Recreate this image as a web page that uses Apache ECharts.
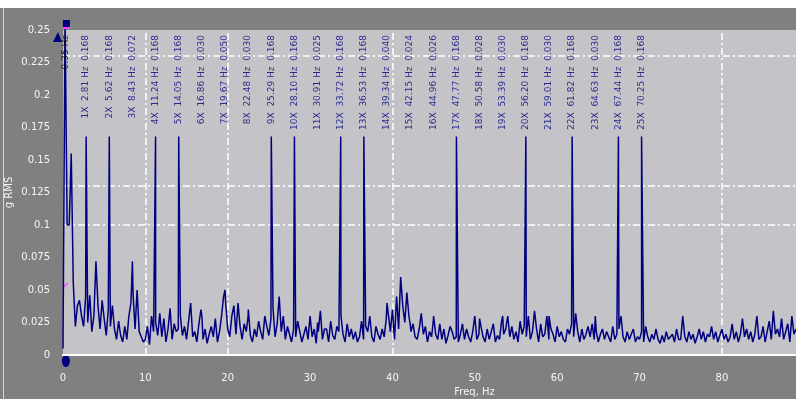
<!DOCTYPE html>
<html>
<head>
<meta charset="utf-8">
<script src="https://cdn.jsdelivr.net/npm/echarts@6/dist/echarts.min.js"></script>
<style>
html,body{margin:0;padding:0;background:#808080;}
#c{width:796px;height:399px;}
</style>
</head>
<body>
<div id="c"></div>
<script>
// Spectrum amplitude, in thousandths of the axis unit, one value every 0.25 Hz from 0 Hz
const FREQ_STEP = 0.25;
const noiseMilli = [
  5,260,100,100, 155,55,22,38, 42,30,22,45, 25,46,18,30, 72,38,20,42,
  28,15,35,22, 38,20,12,26, 15,10,22,12, 30,40,48,20, 50,18,14,10,
  12,22,8,30, 18,25,15,32, 14,28,10,20, 36,12,24,18, 20,30,15,22,
  12,26,40,14, 18,10,24,35, 12,20,9,16, 22,14,28,10, 18,30,45,40,
  20,14,30,38, 16,40,22,12, 24,18,35,15, 10,20,14,26, 18,12,30,22,
  15,28,36,14, 24,45,18,30, 12,22,16,10, 20,14,26,18, 10,16,22,12,
  30,14,20,9, 18,34,12,20, 20,10,26,15, 12,22,18,30, 16,10,24,14,
  20,12,18,10, 14,26,12,22, 18,30,14,10, 22,16,12,20, 14,28,40,18,
  35,12,45,20, 60,38,25,48, 30,18,24,14, 12,20,32,16, 22,10,18,14,
  30,16,12,24, 12,20,9,15, 22,18,12,14, 10,16,24,12, 20,14,10,18,
  30,12,16,22, 14,10,20,12, 18,24,10,15, 12,26,16,20, 30,14,22,12,
  18,10,26,16, 22,14,30,12, 18,34,20,10, 24,14,16,30, 12,20,16,10,
  22,14,18,12, 10,20,16,24, 14,32,18,10, 20,12,16,22, 14,24,12,18,
  10,16,20,12, 18,14,10,22, 12,16,20,30, 14,10,18,12, 16,20,10,14,
  12,18,10,22, 14,10,16,12, 20,12,9,15, 10,18,12,14, 16,10,20,12,
  12,30,14,10, 18,12,16,9, 14,20,12,18, 10,16,14,22, 12,18,10,15,
  20,12,16,10, 14,24,12,18, 10,16,28,14, 20,12,18,10, 16,30,12,14,
  22,10,18,26, 12,34,16,20, 14,28,12,18, 24,10,30,16, 20
];
// Harmonic order, frequency (Hz) and amplitude (thousandths)
const harmonicOrder = [1,2,3,4,5,6,7,8,9,10,11,12,13,14,15,16,17,18,19,20,21,22,23,24,25];
const harmonicFreq  = [2.81,5.62,8.43,11.24,14.05,16.86,19.67,22.48,25.29,28.10,30.91,33.72,36.53,39.34,42.15,44.96,47.77,50.58,53.39,56.20,59.01,61.82,64.63,67.44,70.25];
const harmonicMilli = [168,168,72,168,168,30,50,30,168,168,25,168,168,40,24,26,168,28,30,168,30,168,30,168,168];
// Cursor
const cursorFreq = 0.35;
const cursorLabel = '0.35 Hz';
// Axes
const xTickInterval = 10, xMax = 89;
const yTickInterval = 0.025, yMax = 0.25;
const gridX = [10, 20, 40, 80];
const gridY = [0.1, 0.125, 0.225];
const xName = 'Freq, Hz';
const yName = 'g RMS';

(function () {
const pts = noiseMilli.map((v, i) => [i * FREQ_STEP, v / 1000]);
harmonicFreq.forEach((f, i) => pts.push([f, harmonicMilli[i] / 1000]));
pts.sort((a, b) => a[0] - b[0]);

const labelPts = harmonicFreq.map((f, i) => ({
  value: [f, yMax],
  label: { formatter: harmonicOrder[i] + 'X  ' + f.toFixed(2) + ' Hz  ' + (harmonicMilli[i] / 1000).toFixed(3) }
}));

const chart = echarts.init(document.getElementById('c'), null, {renderer: 'canvas'});
const white = '#f4f4f4';
const gridStyle = {color: '#ffffff', width: 1.5, type: [7, 3, 2, 3]};

chart.setOption({
  animation: false,
  backgroundColor: '#808080',
  textStyle: {fontFamily: 'DejaVu Sans'},
  grid: {left: 63, right: 0, top: 30, bottom: 44, show: true, backgroundColor: '#c4c4c8', borderWidth: 0,
    containLabel: false, outerBoundsMode: 'none'},
  xAxis: {
    type: 'value', min: 0, max: xMax, interval: xTickInterval,
    axisLine: {show: true, onZero: false, lineStyle: {color: '#ffffff', width: 2}},
    axisTick: {show: false}, splitLine: {show: false},
    axisLabel: {color: white, fontSize: 10, margin: 18, showMaxLabel: false},
    name: xName, nameLocation: 'middle', nameGap: 32, nameMoveOverlap: false,
    nameTextStyle: {color: white, fontSize: 10, padding: [0, 0, 0, 90]}
  },
  yAxis: {
    type: 'value', min: 0, max: yMax, interval: yTickInterval,
    axisLine: {show: false}, axisTick: {show: false}, splitLine: {show: false},
    axisLabel: {color: white, fontSize: 10, margin: 13,
      formatter: v => v === 0 ? '0' : String(Math.round(v * 1000) / 1000)},
    name: yName, nameLocation: 'middle', nameGap: 49, nameMoveOverlap: false,
    nameTextStyle: {color: white, fontSize: 10}
  },
  series: [
    {
      type: 'line', data: [], z: 1, silent: true,
      markLine: {
        silent: true, symbol: 'none', z: 1, label: {show: false}, lineStyle: gridStyle,
        data: gridX.map(v => ({xAxis: v})).concat(gridY.map(v => ({yAxis: v})))
      }
    },
    {
      type: 'line', data: pts, z: 3, showSymbol: false, symbol: 'none', clip: true,
      lineStyle: {color: '#000080', width: 1.5}
    },
    {
      type: 'scatter', data: labelPts, symbolSize: 0, z: 4, silent: true,
      label: {show: true, rotate: 90, position: [0, 5], align: 'right', verticalAlign: 'middle',
        color: '#000080', fontSize: 9}
    },
    {
      type: 'scatter', data: [[cursorFreq, yMax]], symbolSize: 0, z: 4, silent: true,
      label: {show: true, rotate: 90, position: [0, 5], align: 'right', verticalAlign: 'middle',
        color: '#000000', fontSize: 9, formatter: cursorLabel}
    }
  ]
});

const cx = chart.convertToPixel({gridIndex: 0}, [cursorFreq, 0])[0];
const plotTop = chart.convertToPixel({gridIndex: 0}, [0, yMax])[1];
const plotBottom = chart.convertToPixel({gridIndex: 0}, [0, 0])[1];
const gl = chart.convertToPixel({gridIndex: 0}, [0, 0])[0];
const pinkY = chart.convertToPixel({gridIndex: 0}, [0, 0.054])[1];
chart.setOption({
  graphic: [
    {type: 'rect', shape: {x: 0, y: 0, width: 796, height: 8}, style: {fill: '#ffffff'}},
    {type: 'line', shape: {x1: 3.5, y1: 8, x2: 3.5, y2: 399}, style: {stroke: '#d8d8d8', lineWidth: 1}},
    {type: 'rect', shape: {x: cx - 3, y: plotTop - 10, width: 7, height: 7}, style: {fill: '#000080'}},
    {type: 'rect', shape: {x: cx - 3, y: plotTop - 3, width: 7, height: 2}, style: {fill: '#ff40ff'}},
    {type: 'polygon', shape: {points: [[gl - 10, plotTop + 12], [gl - 1, plotTop + 12], [gl - 5, plotTop + 2]]}, style: {fill: '#000080'}},
    {type: 'ellipse', shape: {cx: cx, cy: plotBottom + 6, rx: 4, ry: 6}, style: {fill: '#000080'}},
    {type: 'line', shape: {x1: cx - 2, y1: pinkY + 2, x2: cx + 2, y2: pinkY - 2}, style: {stroke: '#ff40ff', lineWidth: 1.5}}
  ]
});
})();
</script>
</body>
</html>
